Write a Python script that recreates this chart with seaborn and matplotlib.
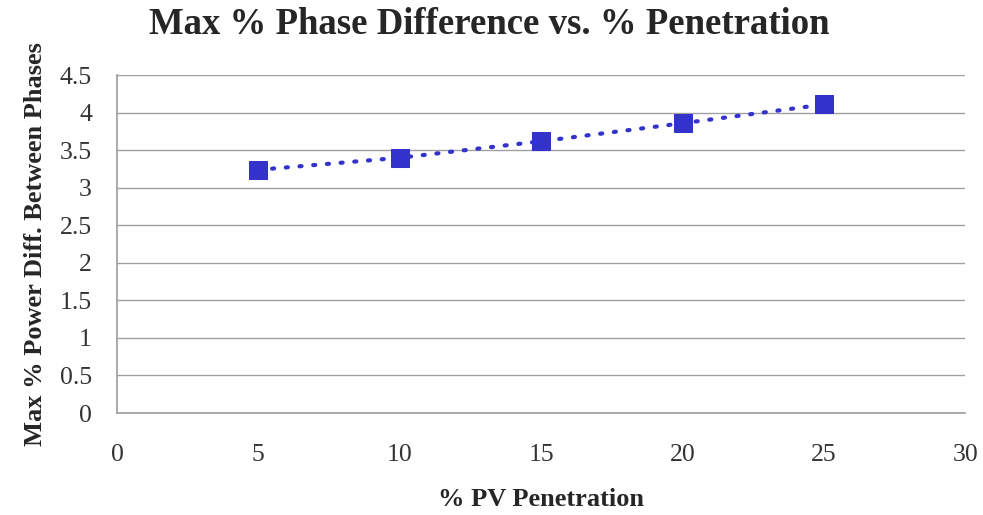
import matplotlib
matplotlib.use("Agg")
import matplotlib.pyplot as plt
import seaborn as sns
import pandas as pd

penetration = [5, 10, 15, 20, 25]
max_diff = [3.24, 3.40, 3.62, 3.86, 4.11]
x_ticks = [0, 5, 10, 15, 20, 25, 30]
y_ticks = [0, 0.5, 1, 1.5, 2, 2.5, 3, 3.5, 4, 4.5]

sns.set_theme(style="white")
plt.rcParams['font.family'] = ['Liberation Serif', 'DejaVu Serif']

df = pd.DataFrame({"x": penetration, "y": max_diff})

fig = plt.figure(figsize=(9.83, 5.15), dpi=100)
ax = fig.add_axes([0.119, 0.198, 0.863, 0.656])

sns.lineplot(data=df, x="x", y="y", ax=ax, color="#3333CC",
             linewidth=3, marker="s", markersize=13, markeredgecolor="#3333CC")
ax.lines[0].set_linestyle((0, (0.5, 2.8)))
ax.lines[0].set_dash_capstyle("round")

ax.set_xlim(0, 30)
ax.set_ylim(0, 4.5)
ax.set_xticks(x_ticks)
ax.set_yticks(y_ticks)
ax.set_xticklabels([str(v) for v in x_ticks], fontsize=18.5, color="#333333")
ax.set_yticklabels([f"{v:g}" for v in y_ticks], fontsize=18.5, color="#333333")
ax.yaxis.grid(True, color="#A0A0A0", linewidth=1)
ax.xaxis.grid(False)
for s in ["top", "right"]:
    ax.spines[s].set_visible(False)
ax.spines["left"].set_color("#A0A0A0")
ax.spines["bottom"].set_color("#A0A0A0")
ax.tick_params(axis="both", length=4, color="#A0A0A0", direction="out")
ax.tick_params(axis="x", pad=18)
ax.tick_params(axis="y", pad=14)

ax.set_xlabel("% PV Penetration", fontsize=19, fontweight="bold", labelpad=16)
ax.set_ylabel("Max % Power Diff. Between Phases", fontsize=19, fontweight="bold", labelpad=9)
fig.text(0.498, 0.953, "Max % Phase Difference vs. % Penetration", ha="center", va="center",
         fontsize=26.5, fontweight="bold")

fig.savefig("out.png", dpi=100, facecolor="white")
